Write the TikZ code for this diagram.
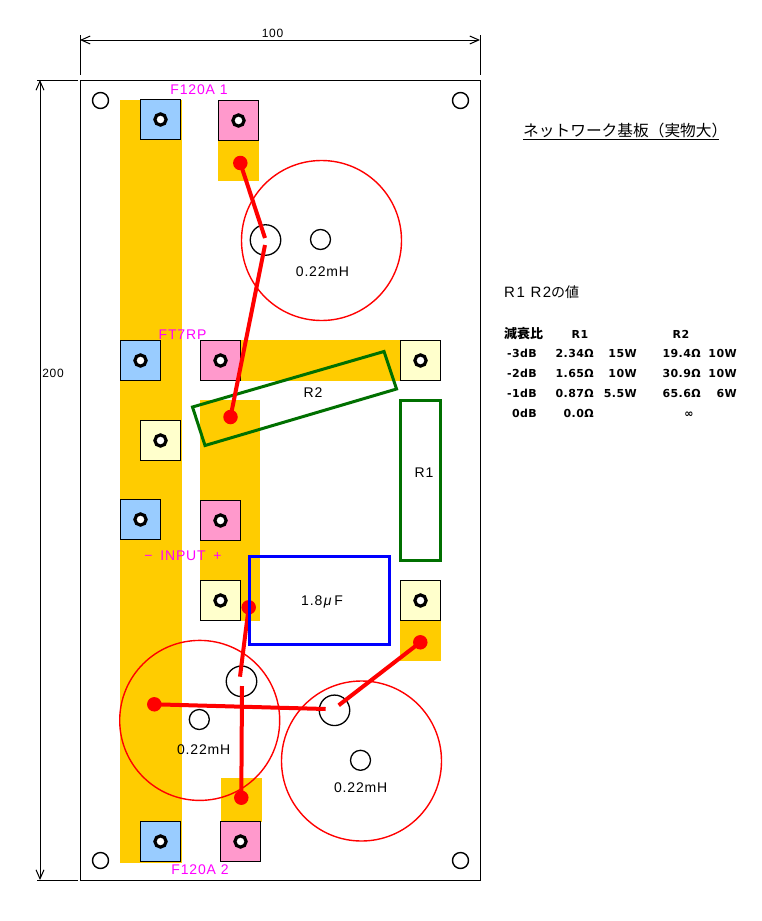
\documentclass[tikz,border=0pt]{standalone}
\usepackage{fontspec}
\setmainfont{Liberation Sans}
\newfontfamily\lsans{Liberation Sans}[LetterSpace=6]
\newfontfamily\lsanb{Liberation Sans}[LetterSpace=10]
\newfontfamily\cjk{Noto Sans CJK JP}
\newfontfamily\tbl{DejaVu Sans Bold}[LetterSpace=4]
\usetikzlibrary{arrows.meta}
\definecolor{padblue}{HTML}{99CCFF}
\definecolor{padpink}{HTML}{FF99CC}
\definecolor{padyellow}{HTML}{FFFFCC}
\definecolor{copper}{HTML}{FFCC00}
\definecolor{mag}{HTML}{FF00FF}
\definecolor{resgreen}{HTML}{007000}
\tikzset{
 pad/.style={draw=black,line width=1pt,minimum size=40pt,inner sep=0pt,outer sep=0pt},
 hole/.style={circle,draw=black,fill=white,line width=3.2pt,minimum size=11.2pt,inner sep=0pt},
 coilbody/.style={circle,draw=red,line width=1.4pt,minimum size=160pt,inner sep=0pt},
 lug/.style={circle,draw=black,line width=1.3pt,minimum size=30.5pt,inner sep=0pt},
 core/.style={circle,draw=black,line width=1.3pt,minimum size=20pt,inner sep=0pt},
 mount/.style={circle,draw=black,line width=1.4pt,minimum size=16pt,inner sep=0pt},
 dot/.style={circle,fill=red,minimum size=14.5pt,inner sep=0pt},
 wire/.style={draw=red,line width=4pt},
 copperarea/.style={fill=copper},
 res/.style={draw=resgreen,line width=3pt},
 lab/.style={text=mag,font=\lsans\fontsize{14}{14}\selectfont},
 val/.style={text=black,font=\lsans\fontsize{14}{14}\selectfont},
 dimline/.style={draw=black,line width=1pt},
 dimarrow/.style={dimline,{Straight Barb[length=9pt,width=8pt]}-{Straight Barb[length=9pt,width=8pt]}},
 tab/.style={font=\tbl\fontsize{11}{11}\selectfont,inner sep=0pt,anchor=base east},
}
\newcommand{\padat}[4]{\node[pad,fill=#2] (#1) at (#3,#4) {}; \node[hole] (#1h) at (#1.center) {};}
\begin{document}
\begin{tikzpicture}[x=1pt,y=-1pt]
\useasboundingbox[fill=white] (0,0) rectangle (761,921);
% board
\node[draw=black,line width=1pt,minimum width=400pt,minimum height=800pt,inner sep=0pt,outer sep=0pt] (board) at (280,480) {};
% copper
\fill[copperarea] (120,100) rectangle (182,863);
\fill[copperarea] (218,140) rectangle (259,181);
\fill[copperarea] (240,340) rectangle (400,381);
\fill[copperarea] (200,400) rectangle (260,621);
\fill[copperarea] (400,620) rectangle (441,661);
\fill[copperarea] (221,778) rectangle (262,822);
% pads
\padat{a}{padblue}{160.5}{119.5}
\padat{b}{padpink}{238.5}{120.5}
\padat{c}{padblue}{140.5}{360.5}
\padat{d}{padpink}{220.5}{360.5}
\padat{e}{padyellow}{420.5}{360.5}
\padat{f}{padyellow}{160.5}{440.5}
\padat{g}{padblue}{140.5}{519.5}
\padat{h}{padpink}{220.5}{520.5}
\padat{i}{padyellow}{220.5}{600.5}
\padat{j}{padyellow}{420.5}{600.5}
\padat{k}{padblue}{160.5}{841.5}
\padat{l}{padpink}{240.5}{841.5}
% mounting holes
\node[mount] (m1) at (100.5,100.5) {};
\node[mount] (m2) at (460.5,100.5) {};
\node[mount] (m3) at (100.5,860.5) {};
\node[mount] (m4) at (460.5,860.5) {};
% coils
\node[coilbody] (c1) at (321.5,240.5) {};
\node[coilbody] (c2) at (199.7,720.4) {};
\node[coilbody] (c3) at (361.5,761) {};
\node[lug] (l1) at (265.5,240) {};
\node[lug] (l2) at (241.5,681.3) {};
\node[lug] (l3) at (334.5,710.3) {};
\node[core] (k1) at (320.5,239.5) {};
\node[core] (k2) at (199.3,719.5) {};
\node[core] (k3) at (360.5,760.3) {};
% resistors & capacitor
\node[res,minimum width=39.5pt,minimum height=160.6pt,inner sep=0pt] (r1) at (420.5,480.5) {};
\draw[res] (192.5,407) coordinate (r2a) -- (384,351.5) coordinate (r2b) -- (396.5,389) coordinate (r2c) -- (205,445.5) coordinate (r2d) -- cycle;
% wires
\node[dot] (d1) at (240.3,163) {};
\node[dot] (d2) at (230.5,417) {};
\node[dot] (d3) at (248.7,607.3) {};
\node[dot] (d4) at (241.3,797.7) {};
\node[dot] (d5) at (154.3,704.3) {};
\node[dot] (d6) at (420.3,642.3) {};
\coordinate (w1) at (265,238);
\coordinate (w2) at (265,245);
\coordinate (w3) at (240,676.7);
\coordinate (w4) at (242,686);
\coordinate (w5) at (325.7,709);
\coordinate (w6) at (338.7,705.3);
\draw[wire] (d1.center) -- (w1);
\draw[wire] (w2) -- (d2.center);
\draw[wire] (d3.center) -- (w3);
\draw[wire] (w4) -- (d4.center);
\draw[wire] (d5.center) -- (w5);
\draw[wire] (w6) -- (d6.center);
\node[draw=blue,line width=3pt,minimum width=139.4pt,minimum height=87.5pt,inner sep=0pt] (cap) at (319.5,600.5) {};
% component labels
\node[val] (t1) at (322.5,272) {0.22mH};
\node[val] (t2) at (203.7,750) {0.22mH};
\node[val] (t3) at (360.7,788) {0.22mH};
\node[val] (tr2) at (313,393) {R2};
\node[val] (tr1) at (424,473) {R1};
\node[val] (tc) at (322,602) {1.8\hspace{1.5pt}\textit{μ}\hspace{2pt}F};
% magenta labels
\node[lab] (n1) at (199,90) {F120A 1};
\node[lab] (n2) at (182.5,335) {FT7RP};
\node[lab] (n3) at (183,556) {\textminus\hspace{3pt} INPUT\hspace{3pt} +};
\node[lab] (n4) at (200,870) {F120A 2};
% dimensions
\coordinate (dt1) at (80,40); \coordinate (dt2) at (480,40);
\coordinate (dl1) at (40,80); \coordinate (dl2) at (40,880);
\draw[dimarrow] (dt1) -- (dt2);
\draw[dimarrow] (dl1) -- (dl2);
\draw[dimline] (80,35) -- (80,75);
\draw[dimline] (480,35) -- (480,75);
\draw[dimline] (37,80) -- (78,80);
\draw[dimline] (37,880) -- (78,880);
\node[font=\lsans\fontsize{12}{12}\selectfont] (dimw) at (272.5,33) {100};
\node[font=\lsans\fontsize{12}{12}\selectfont] (dimh) at (53,373) {200};
% right side text
\node[font=\cjk\fontsize{15.7}{16}\selectfont,inner sep=0pt,anchor=west] (title) at (523,131) {ネットワーク基板（実物大）};
\draw[dimline] (523,139.5) -- (719,139.5);
\node[font=\lsanb\fontsize{15}{15}\selectfont,inner sep=0pt,anchor=base west] (sub) at (504,297.5) {R1 R2{\cjk\fontsize{14}{14}\selectfont の値}};
\begin{scope}[every node/.append style={tab}]
\node[anchor=base west,font=\cjk\bfseries\fontsize{13}{13}\selectfont] (h0) at (504,338) {減衰比};
\node[anchor=base] (h1) at (580,338) {R1};
\node[anchor=base] (h2) at (681,338) {R2};
\node (a1) at (537,357) {-3dB}; \node (a2) at (594,357) {2.34Ω}; \node (a3) at (637,357) {15W}; \node (a4) at (701,357) {19.4Ω}; \node (a5) at (737,357) {10W};
\node (b1) at (537,377) {-2dB}; \node (b2) at (594,377) {1.65Ω}; \node (b3) at (637,377) {10W}; \node (b4) at (701,377) {30.9Ω}; \node (b5) at (737,377) {10W};
\node (e1) at (537,397) {-1dB}; \node (e2) at (594,397) {0.87Ω}; \node (e3) at (637,397) {5.5W}; \node (e4) at (701,397) {65.6Ω}; \node (e5) at (737,397) {6W};
\node (z1) at (537,417) {0dB}; \node (z2) at (594,417) {0.0Ω}; \node[anchor=base] (z4) at (689,417) {∞};
\end{scope}
\end{tikzpicture}
\end{document}
